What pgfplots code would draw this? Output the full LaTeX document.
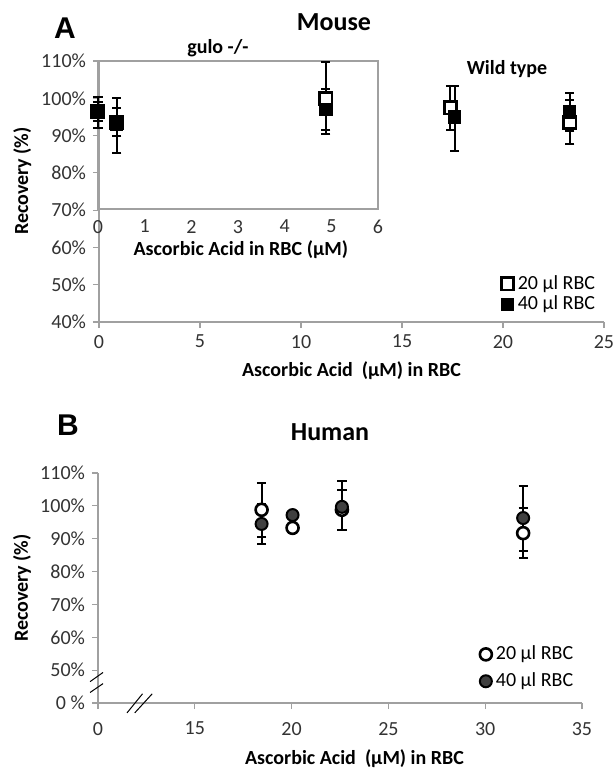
\documentclass[border=0pt]{standalone}
\usepackage{fontspec}
\setmainfont{Carlito}
\newfontfamily\arialf{Liberation Sans}
\usepackage{pgfplots}
\pgfplotsset{compat=1.18}

\definecolor{axgray}{HTML}{A0A0A0}
\definecolor{ticktext}{HTML}{333333}
\definecolor{darkfill}{HTML}{404040}

\pgfplotsset{
  excel/.style={
    scale only axis,
    axis x line=bottom, axis y line=left,
    axis line style={axgray, line width=0.6pt, -},
    tick style={axgray, line width=0.6pt},
    tick align=outside,
    major tick length=3pt,
    tick label style={font=\fontsize{10}{12}\selectfont, text=ticktext},
    /pgf/number format/assume math mode=true,
    clip=false,
  },
  errs/.style={
    error bars/.cd, y dir=both, y explicit,
    error bar style={line width=1pt, black},
    error mark options={rotate=90, mark size=2.3pt, line width=1pt, black},
  },
  sq20/.style={only marks, mark=square*, mark size=3.1pt,
    mark options={fill=white, draw=black, line width=1.3pt}, errs},
  sq40/.style={only marks, mark=square*, mark size=3.1pt,
    mark options={fill=black, draw=black, line width=0.6pt}, errs},
  ci20/.style={only marks, mark=*, mark size=3pt,
    mark options={fill=white, draw=black, line width=1.3pt}, errs},
  ci40/.style={only marks, mark=*, mark size=3pt,
    mark options={fill=darkfill, draw=black, line width=1pt}, errs},
}

\begin{document}
\begin{tikzpicture}
\path[use as bounding box] (0,0) rectangle (306.5pt,384pt);

% ---------------- panel A: mouse ----------------
\node[font=\arialf\bfseries\fontsize{15}{17}\selectfont] at (32.5pt,370pt) {A};
\node[font=\bfseries\fontsize{13}{15}\selectfont] at (167pt,373pt) {Mouse};

\begin{axis}[excel,
    at={(49.5pt,223pt)}, anchor=south west,
    width=252.5pt, height=130.5pt,
    xmin=0, xmax=25, ymin=40, ymax=110,
    xtick={0,5,...,25}, ytick={40,50,...,110},
    yticklabel={\pgfmathprintnumber{\tick}\%},
    xlabel={Ascorbic Acid\ \ (µM) in RBC},
    ylabel={Recovery (\%)},
    label style={font=\bfseries\fontsize{10}{12}\selectfont},
    xlabel style={at={(axis description cs:0.50,-0.185)}, anchor=center},
    ylabel style={at={(axis description cs:-0.152,0.54)}, anchor=center},
    legend style={draw=none, fill=none, at={(0.995,0.01)}, anchor=south east,
      font=\fontsize{10}{12}\selectfont, row sep=-2pt, inner sep=1pt},
    legend cell align=left,
  ]
  \node[font=\bfseries\fontsize{10}{12}\selectfont] at (axis cs:20.2,107.8) {Wild type};
  % wild type
  \addplot[sq20] table[x=x, y=y, y error plus=ep, y error minus=em] {
    x     y     ep   em
    17.4  97.4  5.9  5.9
    23.3  93.6  5.9  5.9
  };
  \addlegendentry{20 µl RBC}
  \addplot[sq40] table[x=x, y=y, y error plus=ep, y error minus=em] {
    x     y     ep   em
    17.6  95.0  8.3  9.1
    23.3  96.3  5.1  5.1
  };
  \addlegendentry{40 µl RBC}
\end{axis}

% inset: gulo -/-
\begin{axis}[excel,
    at={(49pt,279.5pt)}, anchor=south west,
    width=140pt, height=74pt,
    axis x line=box, axis y line=box,
    xmin=0, xmax=6, ymin=70, ymax=110,
    xtick={0,1,...,6}, ytick=\empty,
    major tick length=0pt,
    xticklabel style={yshift=-2pt},
    xlabel={Ascorbic Acid in RBC (µM)},
    xlabel style={font=\bfseries\fontsize{10}{12}\selectfont,
      at={(axis description cs:0.51,-0.275)}, anchor=center},
  ]
  \node[font=\bfseries\fontsize{10}{12}\selectfont] at (axis cs:2.57,113.5) {gulo -/-};
  \addplot[sq20] table[x=x, y=y, y error plus=ep, y error minus=em] {
    x     y     ep   em
    0     96.4  2.5  2.5
    0.4   93.3  4.1  3.7
    4.88  99.8  9.9  9.6
  };
  \addplot[sq40] table[x=x, y=y, y error plus=ep, y error minus=em] {
    x     y     ep   em
    0     96.1  4.2  4.2
    0.4   92.8  7.3  7.7
    4.88  96.9  5.6  5.6
  };
\end{axis}

% ---------------- panel B: human ----------------
\node[font=\arialf\bfseries\fontsize{15}{17}\selectfont] at (34pt,171.5pt) {B};
\node[font=\bfseries\fontsize{13}{15}\selectfont] at (165pt,168pt) {Human};

\begin{axis}[excel,
    at={(49pt,32.5pt)}, anchor=south west,
    width=242pt, height=115pt,
    xmin=10, xmax=35, ymin=40, ymax=110,
    xtick={10,15,...,35}, xticklabels={0,15,20,25,30,35},
    xticklabel style={yshift=-3pt},
    ytick={40,50,...,110},
    yticklabels={0 \%,50\%,60\%,70\%,80\%,90\%,100\%,110\%},
    xlabel={Ascorbic Acid\ \ (µM) in RBC},
    ylabel={Recovery (\%)},
    label style={font=\bfseries\fontsize{10}{12}\selectfont},
    xlabel style={at={(axis description cs:0.53,-0.24)}, anchor=center},
    ylabel style={at={(axis description cs:-0.157,0.5)}, anchor=center},
    legend style={draw=none, fill=none, at={(0.995,0.03)}, anchor=south east,
      font=\fontsize{10}{12}\selectfont, row sep=1pt, inner sep=1pt},
    legend cell align=left,
  ]
  \addplot[ci20] table[x=x, y=y, y error plus=ep, y error minus=em] {
    x      y     ep   em
    18.45  98.8  8.2  8.3
    20.05  93.3  1.5  1.5
    22.6   98.8  6.0  6.0
    31.96  91.7  7.5  7.5
  };
  \addlegendentry{20 µl RBC}
  \addplot[ci40] table[x=x, y=y, y error plus=ep, y error minus=em] {
    x      y     ep   em
    18.45  94.5  6.1  6.1
    20.05  97.2  1.0  1.0
    22.6   99.7  7.9  7.0
    31.96  96.3  9.7  10.0
  };
  \addlegendentry{40 µl RBC}
  % axis break marks
  \draw[black, line width=0.5pt] (axis cs:9.59,46.5) -- (axis cs:10.26,49.3);
  \draw[black, line width=0.5pt] (axis cs:9.59,43.2) -- (axis cs:10.26,45.9);
  \draw[black, line width=0.5pt] (axis cs:11.5,37.0) -- (axis cs:12.3,42.8);
  \draw[black, line width=0.5pt] (axis cs:11.9,37.0) -- (axis cs:12.8,42.8);
\end{axis}
\end{tikzpicture}
\end{document}
